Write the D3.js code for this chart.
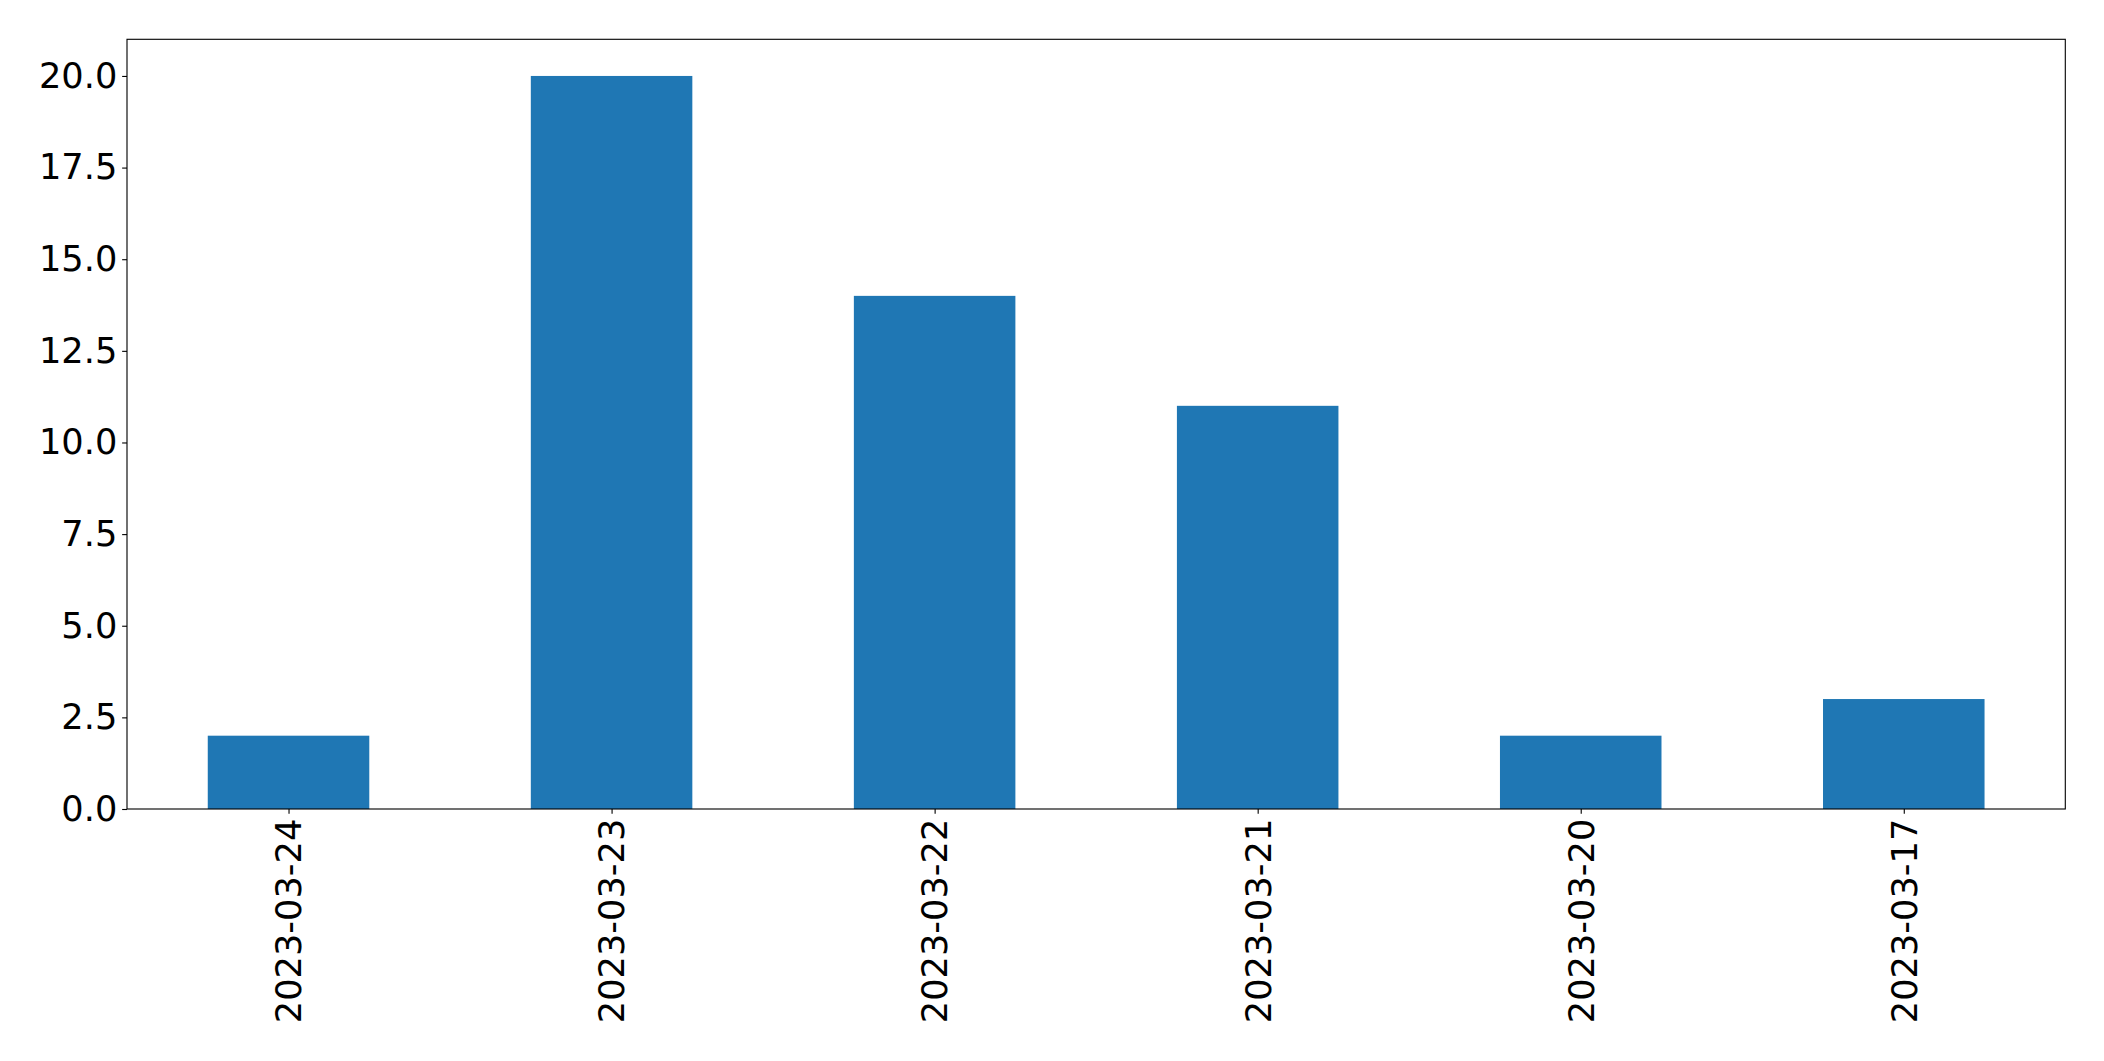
<!DOCTYPE html>
<html>
<head>
<meta charset="utf-8">
<script src="https://cdn.jsdelivr.net/npm/d3@7"></script>
<style>
html,body{margin:0;padding:0;background:#fff;}
svg{display:block;}
</style>
</head>
<body>
<svg id="chart" width="2104" height="1061"></svg>
<script>
const categories = ["2023-03-24","2023-03-23","2023-03-22","2023-03-21","2023-03-20","2023-03-17"];
const values = [2, 20, 14, 11, 2, 3];
const yTicks = [0, 2.5, 5, 7.5, 10, 12.5, 15, 17.5, 20];

const W = 2104, H = 1061;
const L = 127, R = 2065.3, T = 39.3, B = 809;
const fontSize = 35.2;
const tickLen = 4.86, pad = 4.86, lw = 1.11;

const svg = d3.select("#chart");

const x = d3.scaleLinear().domain([-0.5, categories.length - 0.5]).range([L, R]);
const y = d3.scaleLinear().domain([0, 21]).range([B, T]);
const barW = x(0.5) - x(0);

svg.append("g").selectAll("rect")
  .data(values)
  .join("rect")
  .attr("x", (d, i) => x(i - 0.25))
  .attr("width", barW)
  .attr("y", d => y(d))
  .attr("height", d => y(0) - y(d))
  .attr("fill", "#1f77b4");

const yAxis = d3.axisLeft(y).tickValues(yTicks).tickFormat(d3.format(".1f"))
  .tickSize(tickLen).tickPadding(pad);
const gy = svg.append("g").attr("transform", `translate(${L},0)`).call(yAxis);
gy.select(".domain").remove();
gy.selectAll("line").attr("stroke", "#000").attr("stroke-width", lw);
gy.selectAll("text").attr("font-family", "DejaVu Sans").attr("font-size", fontSize).attr("fill", "#000");

const xAxis = d3.axisBottom(x).tickValues(d3.range(categories.length))
  .tickFormat(i => categories[i]).tickSize(tickLen).tickPadding(pad);
const gx = svg.append("g").attr("transform", `translate(0,${B})`).call(xAxis);
gx.select(".domain").remove();
gx.selectAll("line").attr("stroke", "#000").attr("stroke-width", lw);
gx.selectAll("text")
  .attr("font-family", "DejaVu Sans").attr("font-size", fontSize).attr("fill", "#000")
  .attr("text-anchor", "end")
  .attr("dy", "0.35em")
  .attr("transform", `translate(0,${tickLen + pad}) rotate(-90)`)
  .attr("x", 0).attr("y", 0);

svg.append("rect")
  .attr("x", L).attr("y", T).attr("width", R - L).attr("height", B - T)
  .attr("fill", "none").attr("stroke", "#000").attr("stroke-width", lw);
</script>
</body>
</html>
